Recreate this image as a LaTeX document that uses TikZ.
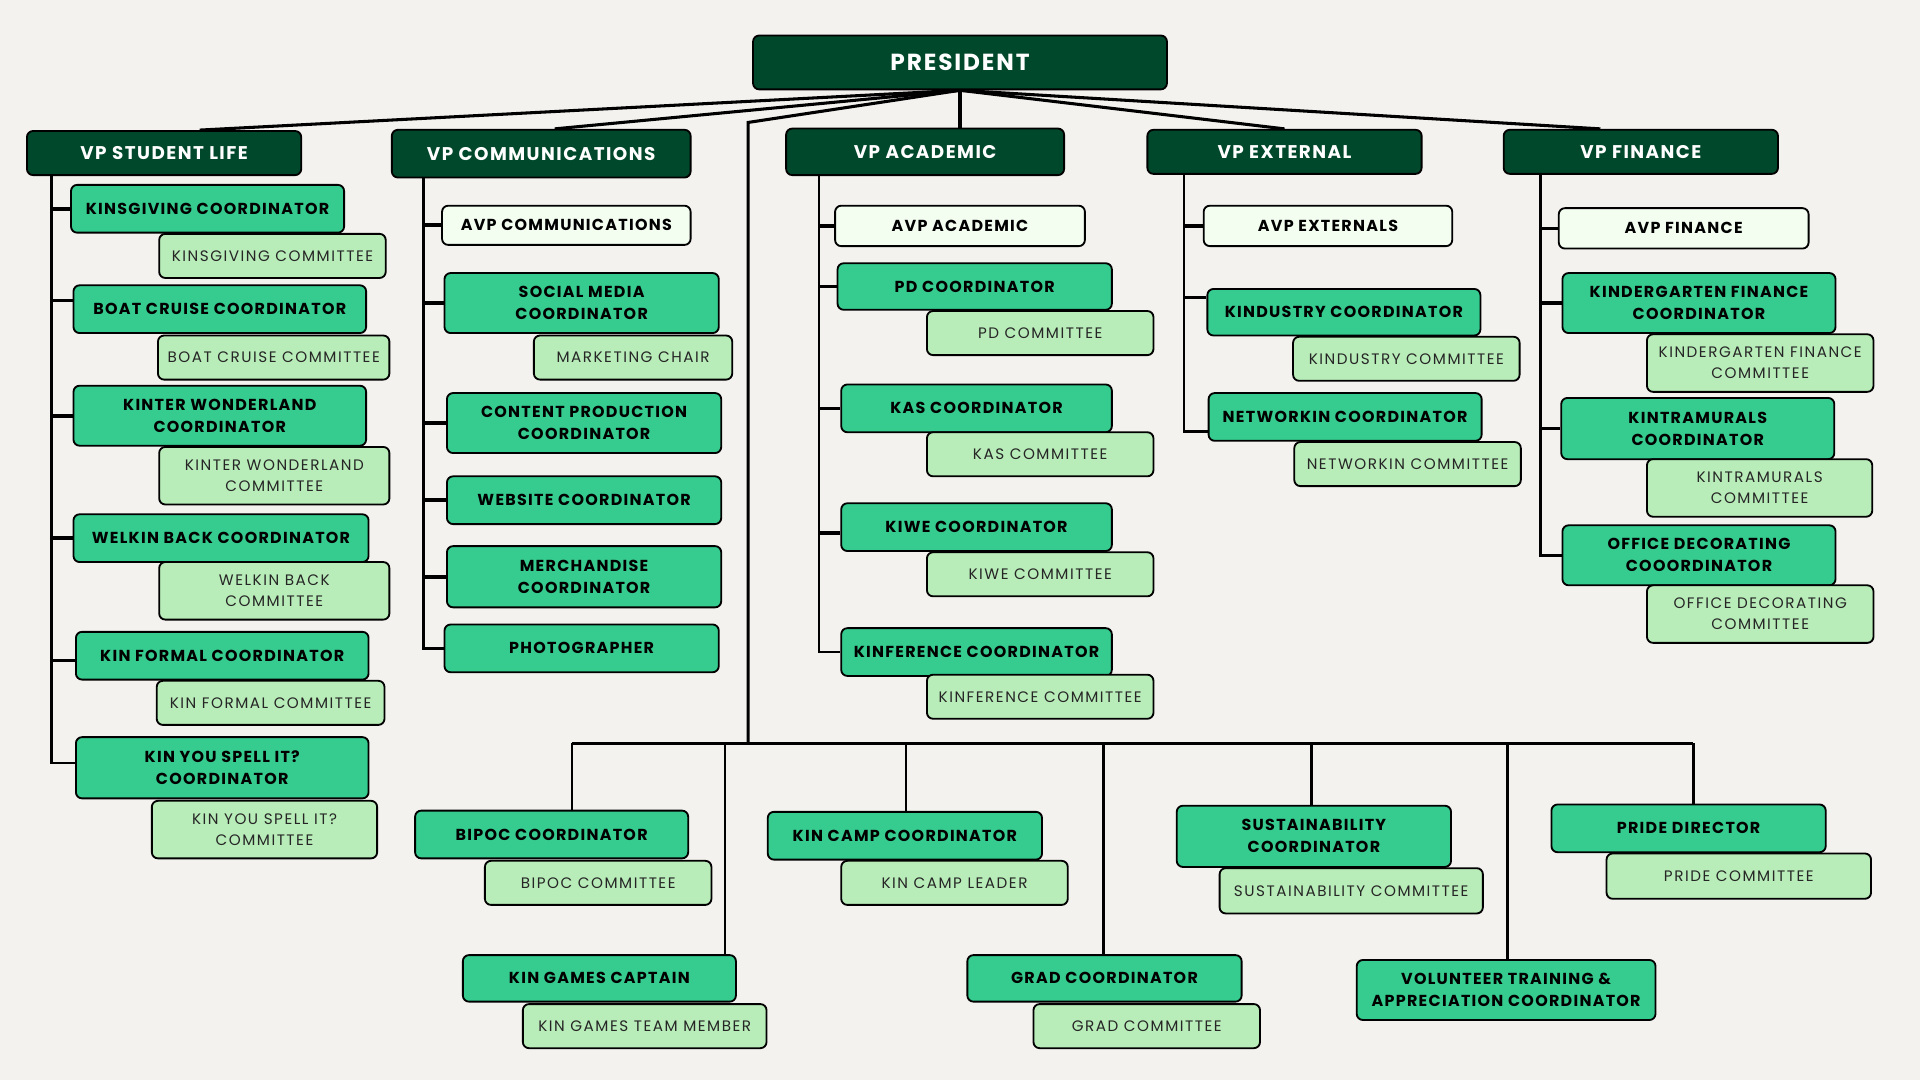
\documentclass[tikz,border=0pt]{standalone}
\usepackage{fontspec}
\setmainfont{Poppins}
\newfontfamily\hfont[LetterSpace=8]{Poppins}
\newfontfamily\cfont[LetterSpace=10]{Poppins}
\usetikzlibrary{backgrounds}
\definecolor{bgc}{HTML}{F3F2EE}
\definecolor{dkg}{HTML}{00482B}
\definecolor{midg}{HTML}{36CB8F}
\definecolor{ltg}{HTML}{B8ECB8}
\definecolor{avpc}{HTML}{F3FEF1}
\newcommand\mybox[7]{%
  \pgfmathsetmacro\bxw{#5-#3}\pgfmathsetmacro\bxh{#6-#4}%
  \pgfmathsetmacro\bxcx{(#3+#5)/2}\pgfmathsetmacro\bxcy{(#4+#6)/2}%
  \node[#1, minimum width=\bxw pt, minimum height=\bxh pt] (#2) at (\bxcx,\bxcy) {#7};}
\begin{document}
\begin{tikzpicture}[x=1pt,y=-1pt,
  box/.style={draw=black, line width=1.5pt, rounded corners=5pt, inner sep=0pt, align=center, text=black},
  presbox/.style={box, fill=dkg, text=white, font=\hfont\fontsize{19}{22}\selectfont\bfseries},
  vpbox/.style={box, fill=dkg, text=white, font=\hfont\fontsize{15}{18}\selectfont\bfseries},
  crd/.style={box, fill=midg, font=\hfont\fontsize{13}{18}\selectfont\bfseries},
  cmt/.style={box, fill=ltg, text=black!85, font=\cfont\fontsize{12.4}{17}\selectfont},
  avpbox/.style={box, fill=avpc, font=\hfont\fontsize{13}{18}\selectfont\bfseries},
  link/.style={line width=2.5pt},
  col/.style={line width=2pt},
  tk/.style={line width=3pt}]
\useasboundingbox (0,0) rectangle (1568,882);

\mybox{presbox}{pres}{615}{29}{953}{73}{PRESIDENT}
\mybox{vpbox}{vsl}{22}{107}{246}{143}{VP STUDENT LIFE}
\mybox{vpbox}{vcm}{320}{106}{564}{145}{VP COMMUNICATIONS}
\mybox{vpbox}{vac}{642}{105}{869}{143}{VP ACADEMIC}
\mybox{vpbox}{vex}{937}{106}{1161}{142}{VP EXTERNAL}
\mybox{vpbox}{vfi}{1228}{106}{1452}{142}{VP FINANCE}

% Student life
\mybox{crd}{sl1}{58}{151}{281}{190}{KINSGIVING COORDINATOR}
\mybox{cmt}{sl1c}{130}{191}{315}{227}{KINSGIVING COMMITTEE}
\mybox{crd}{sl2}{60}{233}{299}{272}{BOAT CRUISE COORDINATOR}
\mybox{cmt}{sl2c}{129}{274}{318}{310}{BOAT CRUISE COMMITTEE}
\mybox{crd}{sl3}{60}{315}{299}{364}{KINTER WONDERLAND\\COORDINATOR}
\mybox{cmt}{sl3c}{130}{365}{318}{412}{KINTER WONDERLAND\\COMMITTEE}
\mybox{crd}{sl4}{60}{420}{301}{459}{WELKIN BACK COORDINATOR}
\mybox{cmt}{sl4c}{130}{459}{318}{506}{WELKIN BACK\\COMMITTEE}
\mybox{crd}{sl5}{62}{516}{301}{555}{KIN FORMAL COORDINATOR}
\mybox{cmt}{sl5c}{128}{556}{314}{592}{KIN FORMAL COMMITTEE}
\mybox{crd}{sl6}{62}{602}{301}{652}{KIN YOU SPELL IT?\\COORDINATOR}
\mybox{cmt}{sl6c}{124}{654}{308}{701}{KIN YOU SPELL IT?\\COMMITTEE}

% Communications
\mybox{avpbox}{cm0}{361}{168}{564}{200}{AVP COMMUNICATIONS}
\mybox{crd}{cm1}{363}{223}{587}{272}{SOCIAL MEDIA\\COORDINATOR}
\mybox{cmt}{cm1c}{436}{274}{598}{310}{MARKETING CHAIR}
\mybox{crd}{cm2}{365}{321}{589}{370}{CONTENT PRODUCTION\\COORDINATOR}
\mybox{crd}{cm3}{365}{389}{589}{428}{WEBSITE COORDINATOR}
\mybox{crd}{cm4}{365}{446}{589}{496}{MERCHANDISE\\COORDINATOR}
\mybox{crd}{cm5}{363}{510}{587}{549}{PHOTOGRAPHER}

% Academic
\mybox{avpbox}{ac0}{682}{168}{886}{201}{AVP ACADEMIC}
\mybox{crd}{ac1}{684}{215}{908}{253}{PD COORDINATOR}
\mybox{cmt}{ac1c}{757}{254}{942}{290}{PD COMMITTEE}
\mybox{crd}{ac2}{687}{314}{908}{353}{KAS COORDINATOR}
\mybox{cmt}{ac2c}{757}{353}{942}{389}{KAS COMMITTEE}
\mybox{crd}{ac3}{687}{411}{908}{450}{KIWE COORDINATOR}
\mybox{cmt}{ac3c}{757}{451}{942}{487}{KIWE COMMITTEE}
\mybox{crd}{ac4}{687}{513}{908}{552}{KINFERENCE COORDINATOR}
\mybox{cmt}{ac4c}{757}{551}{942}{587}{KINFERENCE COMMITTEE}

% External
\mybox{avpbox}{ex0}{983}{168}{1186}{201}{AVP EXTERNALS}
\mybox{crd}{ex1}{986}{236}{1209}{274}{KINDUSTRY COORDINATOR}
\mybox{cmt}{ex1c}{1056}{275}{1241}{311}{KINDUSTRY COMMITTEE}
\mybox{crd}{ex2}{987}{321}{1210}{360}{NETWORKIN COORDINATOR}
\mybox{cmt}{ex2c}{1057}{361}{1242}{397}{NETWORKIN COMMITTEE}

% Finance
\mybox{avpbox}{fi0}{1273}{170}{1477}{203}{AVP FINANCE}
\mybox{crd}{fi1}{1276}{223}{1499}{272}{KINDERGARTEN FINANCE\\COORDINATOR}
\mybox{cmt}{fi1c}{1345}{273}{1530}{320}{KINDERGARTEN FINANCE\\COMMITTEE}
\mybox{crd}{fi2}{1275}{325}{1498}{375}{KINTRAMURALS\\COORDINATOR}
\mybox{cmt}{fi2c}{1345}{375}{1529}{422}{KINTRAMURALS\\COMMITTEE}
\mybox{crd}{fi3}{1276}{429}{1499}{478}{OFFICE DECORATING\\COOORDINATOR}
\mybox{cmt}{fi3c}{1345}{478}{1530}{525}{OFFICE DECORATING\\COMMITTEE}

% Bottom
\mybox{crd}{bt1}{339}{662}{562}{701}{BIPOC COORDINATOR}
\mybox{cmt}{bt1c}{396}{703}{581}{739}{BIPOC COMMITTEE}
\mybox{crd}{bt2}{378}{780}{601}{818}{KIN GAMES CAPTAIN}
\mybox{cmt}{bt2c}{427}{820}{626}{856}{KIN GAMES TEAM MEMBER}
\mybox{crd}{bt3}{627}{663}{851}{702}{KIN CAMP COORDINATOR}
\mybox{cmt}{bt3c}{687}{703}{872}{739}{KIN CAMP LEADER}
\mybox{crd}{bt4}{790}{780}{1014}{818}{GRAD COORDINATOR}
\mybox{cmt}{bt4c}{844}{820}{1029}{856}{GRAD COMMITTEE}
\mybox{crd}{bt5}{961}{658}{1185}{708}{SUSTAINABILITY\\COORDINATOR}
\mybox{cmt}{bt5c}{996}{709}{1211}{746}{SUSTAINABILITY COMMITTEE}
\mybox{crd}{bt6}{1108}{784}{1352}{833}{VOLUNTEER TRAINING \&\\APPRECIATION COORDINATOR}
\mybox{crd}{bt7}{1267}{657}{1491}{696}{PRIDE DIRECTOR}
\mybox{cmt}{bt7c}{1312}{697}{1528}{734}{PRIDE COMMITTEE}

\coordinate (busA) at (611,100);
\coordinate (busB) at (611,607);
\coordinate (busL) at (467,607);
\coordinate (busR) at (1383,607);
\coordinate (d2) at (592,607);
\coordinate (d3) at (740,607);
\coordinate (d4) at (901,607);
\coordinate (d5) at (1071,607);
\coordinate (d6) at (1231,607);
\coordinate (csl) at (42,143);
\coordinate (ccm) at (346,145);
\coordinate (cac) at (669,143);
\coordinate (cex) at (967,142);
\coordinate (cfi) at (1258,142);

\begin{scope}[on background layer]
\fill[bgc] (0,0) rectangle (1568,882);
\draw[link] (pres.south) -- ([xshift=29pt]vsl.north);
\draw[link] (pres.south) -- ([xshift=11pt]vcm.north);
\draw[link] (pres.south) -- (pres.south |- vac.north);
\draw[link] (pres.south) -- (vex.north);
\draw[link] (pres.south) -- ([xshift=-33pt]vfi.north);
\draw[link] (pres.south) -- (busA) -- (busB);
\draw[link] (busL) -- (busR);
\draw[col] (busL) -- (busL |- bt1.north);
\draw[col] (d2) -- (d2 |- bt2.north);
\draw[col] (d3) -- (d3 |- bt3.north);
\draw[col] (d4) -- (d4 |- bt4.north);
\draw[col] (d5) -- (d5 |- bt5.north);
\draw[col] (d6) -- (d6 |- bt6.north);
\draw[col] (busR) -- (busR |- bt7.north);
% columns
\draw[col] (csl) |- ([yshift=4pt]sl6.west);
\foreach \n/\s in {sl1/0,sl2/7,sl3/0,sl4/0,sl5/-4}{\draw[tk] ([yshift=\s pt]\n.west) -- ([yshift=\s pt]\n.west -| csl);}
\draw[col] (ccm) |- (cm5.west);
\foreach \n in {cm0,cm1,cm2,cm3,cm4}{\draw[tk] (\n.west) -- (\n.west -| ccm);}
\draw[col] (cac) |- (ac4.west);
\foreach \n/\s in {ac0/0,ac1/0,ac2/0,ac3/-5}{\draw[tk] ([yshift=\s pt]\n.west) -- ([yshift=\s pt]\n.west -| cac);}
\draw[col] (cex) |- ([yshift=-12pt]ex2.west);
\foreach \n/\s in {ex0/0,ex1/12}{\draw[tk] ([yshift=\s pt]\n.west) -- ([yshift=\s pt]\n.west -| cex);}
\draw[col] (cfi) |- (fi3.west);
\foreach \n in {fi0,fi1,fi2}{\draw[tk] (\n.west) -- (\n.west -| cfi);}
\end{scope}
\end{tikzpicture}
\end{document}
